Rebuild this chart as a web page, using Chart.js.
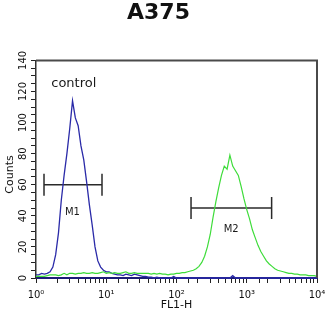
<!DOCTYPE html>
<html><head><meta charset="utf-8">
<script src="https://cdn.jsdelivr.net/npm/chart.js@4"></script>
<style>html,body{margin:0;padding:0;background:#fff}</style>
</head><body>
<canvas id="c" width="334" height="317" style="display:block;width:334px;height:317px"></canvas>
<script>
// histogram bins: log10 of FL1-H channel
const binExponents = [0,0.04,0.08,0.12,0.16,0.2,0.24,0.28,0.32,0.36,0.4,0.44,0.48,0.52,0.56,0.6,0.64,0.68,0.72,0.76,
0.8,0.84,0.88,0.92,0.96,1,1.04,1.08,1.12,1.16,1.2,1.24,1.28,1.32,1.36,1.4,1.44,1.48,1.52,1.56,
1.6,1.64,1.68,1.72,1.76,1.8,1.84,1.88,1.92,1.96,2,2.04,2.08,2.12,2.16,2.2,2.24,2.28,2.32,2.36,
2.4,2.44,2.48,2.52,2.56,2.6,2.64,2.68,2.72,2.76,2.8,2.84,2.88,2.92,2.96,3,3.04,3.08,3.12,3.16,
3.2,3.24,3.28,3.32,3.36,3.4,3.44,3.48,3.52,3.56,3.6,3.64,3.68,3.72,3.76,3.8,3.84,3.88,3.92,3.96,4];
const controlCounts = [2,2,3,2.5,3,4,7,15,29,50,66,80,96,114,103,98,85,76,62,47,
34,20,11,7,5,4,4,3,2.5,2,2,1.5,2.5,2,1.5,2.5,2,1.5,1,1,
0.5,0.5,0,0.5,0,0,0,0,0,1,0,0,0,0,0,0,0,0,0,0,
0,0,0,0,0,0,0,0,0,0,1.5,0,0,0,0,0,0,0,0,0,
0,0,0,0,0,0,0,0,0,0,0,0,0,0,0,0,0,0,0,0,0];
const sampleCounts = [1,1,1,1,1.5,2,2,2,1.5,2,3,2,3,3,2.5,3,3,3.5,3,3,
3.5,3,3,3.5,4,3,3.5,3,3.5,3,3,3.5,4,3,3,3.5,3,3,3,3,
3,2.5,3,2.5,3,2.5,2.5,2,2.5,2.5,3,3,3.5,3.5,4,4.5,5,6,7.5,10,
14,20,28,39,49,58,66,72,70,79,72,69,66,59,51,44,38,31,26,21,
17,14,11,9,7.5,6,5,4.5,4,3.5,3,3,2.5,2.5,2,2,2,1.5,1.5,1.5,1];
const xTickLabels = {1:'10\u2070',10:'10\u00B9',100:'10\u00B2',1000:'10\u00B3',10000:'10\u2074'};
const yLabelStep = 20;
const m1Range = [1.3, 8.7], m1Level = 60;
const m2Range = [161, 2260], m2Level = 45;
const textNotes = [
  {text:'control', x:3.45, y:125, size:13},
  {text:'M1', x:3.3, y:42, size:10},
  {text:'M2', x:600, y:31.5, size:10}
];

const FONT = "'DejaVu Sans', sans-serif";
const toXY = (vals) => vals.map((v,i)=>({x:Math.pow(10,binExponents[i]), y:v}));

const framePlugin = {
  id:'frame',
  afterDatasetsDraw(chart){
    const {ctx, chartArea:a} = chart;
    ctx.save();
    ctx.strokeStyle='#4a4a4a'; ctx.lineWidth=2;
    ctx.beginPath(); ctx.moveTo(a.left, a.top); ctx.lineTo(a.right, a.top); ctx.lineTo(a.right, a.bottom); ctx.stroke();
    ctx.fillStyle='#1a1a1a'; ctx.textAlign='center'; ctx.textBaseline='middle';
    const xs=chart.scales.x, ys=chart.scales.y;
    textNotes.forEach(n=>{
      ctx.font = n.size+'px '+FONT;
      ctx.fillText(n.text, xs.getPixelForValue(n.x), ys.getPixelForValue(n.y));
    });
    ctx.restore();
  }
};

new Chart(document.getElementById('c'), {
  type:'line',
  data:{datasets:[
    {label:'sample', data:toXY(sampleCounts), borderColor:'#3edc3a', borderWidth:1.2, pointRadius:0, tension:0, fill:false, clip:false},
    {label:'control', data:toXY(controlCounts), borderColor:'#2a2aa8', borderWidth:1.3, pointRadius:0, tension:0, fill:false, clip:false},
    {label:'M1', data:[{x:m1Range[0],y:m1Level},{x:m1Range[1],y:m1Level}], borderColor:'#2a2a2a', borderWidth:1.5,
      pointStyle:'line', rotation:90, pointRadius:11, pointBorderWidth:1.5, pointBorderColor:'#2a2a2a', pointHoverRadius:11},
    {label:'M2', data:[{x:m2Range[0],y:m2Level},{x:m2Range[1],y:m2Level}], borderColor:'#2a2a2a', borderWidth:1.5,
      pointStyle:'line', rotation:90, pointRadius:11, pointBorderWidth:1.5, pointBorderColor:'#2a2a2a', pointHoverRadius:11}
  ]},
  options:{
    responsive:false, animation:false, devicePixelRatio:1,
    layout:{padding:{top:0,left:0,right:17,bottom:4}},
    plugins:{
      legend:{display:false}, tooltip:{enabled:false},
      title:{display:true, text:'A375', color:'#111', font:{family:FONT, size:22, weight:'bold'}, padding:{top:0,bottom:34}}
    },
    scales:{
      x:{type:'logarithmic', min:1, max:10000,
        afterFit(s){ s.height = 35; },
        border:{color:'#1c1c78', width:2},
        grid:{drawOnChartArea:false, drawTicks:true, tickLength:5, color:'#222', tickWidth:1},
        ticks:{autoSkip:false, maxRotation:0, minRotation:0, padding:6, color:'#111', font:{family:FONT,size:10},
          callback:(v)=> xTickLabels[v] !== undefined ? xTickLabels[v] : ''},
        title:{display:true, text:'FL1-H', color:'#111', font:{family:FONT,size:11}, padding:{top:0,bottom:1}}
      },
      y:{type:'linear', min:0, max:140,
        afterFit(s){ s.width = 36; },
        border:{color:'#333', width:1.5},
        grid:{drawOnChartArea:false, drawTicks:true, tickLength:5, color:'#222'},
        ticks:{stepSize:5, autoSkip:false, minRotation:90, maxRotation:90, crossAlign:'center', padding:-2, color:'#111',
          font:{family:FONT,size:10}, callback:(v)=> v % yLabelStep === 0 ? String(v) : ''},
        title:{display:true, text:'Counts   ', color:'#111', font:{family:FONT,size:11}, padding:{top:4,bottom:0}}
      }
    }
  },
  plugins:[framePlugin]
});
</script>
</body></html>
